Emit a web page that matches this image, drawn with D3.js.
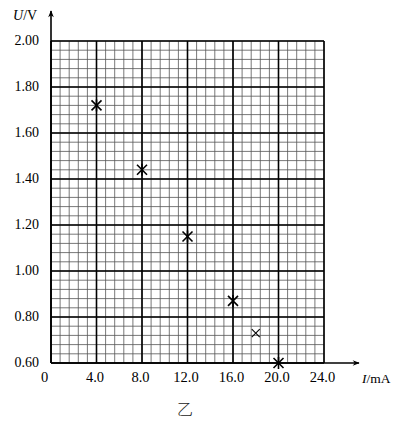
<!DOCTYPE html>
<html>
<head>
<meta charset="utf-8">
<script src="https://cdn.jsdelivr.net/npm/d3@7"></script>
<style>
  html, body { margin: 0; padding: 0; background: #fff; }
  svg { display: block; }
</style>
</head>
<body>
<svg id="chart" width="394" height="421"></svg>
<script>
// ---- data ----
const currentMA = [4.0, 8.0, 12.0, 16.0, 18.0, 20.0];
const voltageV = [1.72, 1.44, 1.15, 0.87, 0.73, 0.60];
const markerKind = ["star", "star", "star", "star", "cross", "star"];
const xTickValues = [0, 4, 8, 12, 16, 20, 24];
const xTickLabels = ["0", "4.0", "8.0", "12.0", "16.0", "20.0", "24.0"];
const yTickValues = [0.6, 0.8, 1.0, 1.2, 1.4, 1.6, 1.8, 2.0];
const yTickLabels = ["0.60", "0.80", "1.00", "1.20", "1.40", "1.60", "1.80", "2.00"];
const xLabel = ["I", "/mA"];
const yLabel = ["U", "/V"];
const caption = "乙";

// ---- layout ----
const svg = d3.select("#chart");
const x = d3.scaleLinear().domain([0, 24]).range([51, 324]);
const y = d3.scaleLinear().domain([0.6, 2.0]).range([363, 41]);
const serif = "'Liberation Serif', 'DejaVu Serif', serif";

// grid
const g = svg.append("g");
const minorX = d3.range(0, 24.0001, 0.8);
const minorY = d3.range(0, 35.0001, 1).map(i => 0.6 + i * 0.04);
g.selectAll("line.mx").data(minorX).join("line")
  .attr("x1", d => x(d)).attr("x2", d => x(d))
  .attr("y1", y(0.6)).attr("y2", y(2.0))
  .attr("stroke", "#555").attr("stroke-width", 0.8);
g.selectAll("line.my").data(minorY).join("line")
  .attr("y1", d => y(d)).attr("y2", d => y(d))
  .attr("x1", x(0)).attr("x2", x(24))
  .attr("stroke", "#555").attr("stroke-width", 0.8);
g.selectAll("line.Mx").data(xTickValues).join("line")
  .attr("x1", d => x(d)).attr("x2", d => x(d))
  .attr("y1", y(0.6)).attr("y2", y(2.0))
  .attr("stroke", "#000").attr("stroke-width", 1.6);
g.selectAll("line.My").data(yTickValues).join("line")
  .attr("y1", d => y(d)).attr("y2", d => y(d))
  .attr("x1", x(0)).attr("x2", x(24))
  .attr("stroke", "#000").attr("stroke-width", 1.6);

// arrow marker
const defs = svg.append("defs");
defs.append("marker").attr("id", "arr")
  .attr("viewBox", "0 0 10 10").attr("refX", 9).attr("refY", 5)
  .attr("markerWidth", 9).attr("markerHeight", 7).attr("markerUnits", "userSpaceOnUse")
  .attr("orient", "auto")
  .append("path").attr("d", "M0,1 L10,5 L0,9 L3,5 Z").attr("fill", "#000");

// axes lines with arrows
svg.append("line").attr("x1", x(0)).attr("x2", x(0)).attr("y1", y(0.6)).attr("y2", 11)
  .attr("stroke", "#000").attr("stroke-width", 1.6).attr("marker-end", "url(#arr)");
svg.append("line").attr("x1", x(0)).attr("x2", 359).attr("y1", y(0.6)).attr("y2", y(0.6))
  .attr("stroke", "#000").attr("stroke-width", 1.6).attr("marker-end", "url(#arr)");

// tick labels via axis generators
const xAxis = d3.axisBottom(x).tickValues(xTickValues)
  .tickFormat((d, i) => xTickLabels[i]).tickSize(0).tickPadding(9);
const xg = svg.append("g").attr("transform", `translate(-2,${y(0.6)})`).call(xAxis);
xg.select(".domain").remove();
xg.selectAll("text").attr("font-family", serif).attr("font-size", 14.5).attr("fill", "#000");
xg.selectAll(".tick").filter(d => d === 0).select("text").attr("dx", -5);

const yAxis = d3.axisLeft(y).tickValues(yTickValues)
  .tickFormat((d, i) => yTickLabels[i]).tickSize(0).tickPadding(12);
const yg = svg.append("g").attr("transform", `translate(${x(0)},-1)`).call(yAxis);
yg.select(".domain").remove();
yg.selectAll("text").attr("font-family", serif).attr("font-size", 14).attr("fill", "#000");

// axis titles
const yt = svg.append("text").attr("x", 13).attr("y", 20)
  .attr("font-family", serif).attr("font-size", 14).attr("fill", "#000");
yt.append("tspan").attr("font-style", "italic").text(yLabel[0]);
yt.append("tspan").text(yLabel[1]);
const xt = svg.append("text").attr("x", 362).attr("y", 383)
  .attr("font-family", serif).attr("font-size", 13.5).attr("fill", "#000");
xt.append("tspan").attr("font-style", "italic").text(xLabel[0]);
xt.append("tspan").text(xLabel[1]);

// caption
svg.append("text").attr("x", 185).attr("y", 415).attr("text-anchor", "middle")
  .attr("font-family", "'Noto Sans CJK SC', sans-serif").attr("font-weight", 300)
  .attr("font-size", 16).attr("fill", "#222").text(caption);

// data markers
const pts = currentMA.map((c, i) => ({ c, v: voltageV[i], k: markerKind[i] }));
const mg = svg.append("g");
pts.forEach(p => {
  const cx = x(p.c), cy = y(p.v);
  const r = p.k === "star" ? 5 : 4;
  const segs = [[-r, -r, r, r], [-r, r, r, -r]];
  if (p.k === "star") segs.push([0, -r - 1, 0, r + 1]);
  segs.forEach(s => {
    mg.append("line")
      .attr("x1", cx + s[0]).attr("y1", cy + s[1])
      .attr("x2", cx + s[2]).attr("y2", cy + s[3])
      .attr("stroke", "#000").attr("stroke-width", p.k === "star" ? 1.6 : 1.1);
  });
});
</script>
</body>
</html>
